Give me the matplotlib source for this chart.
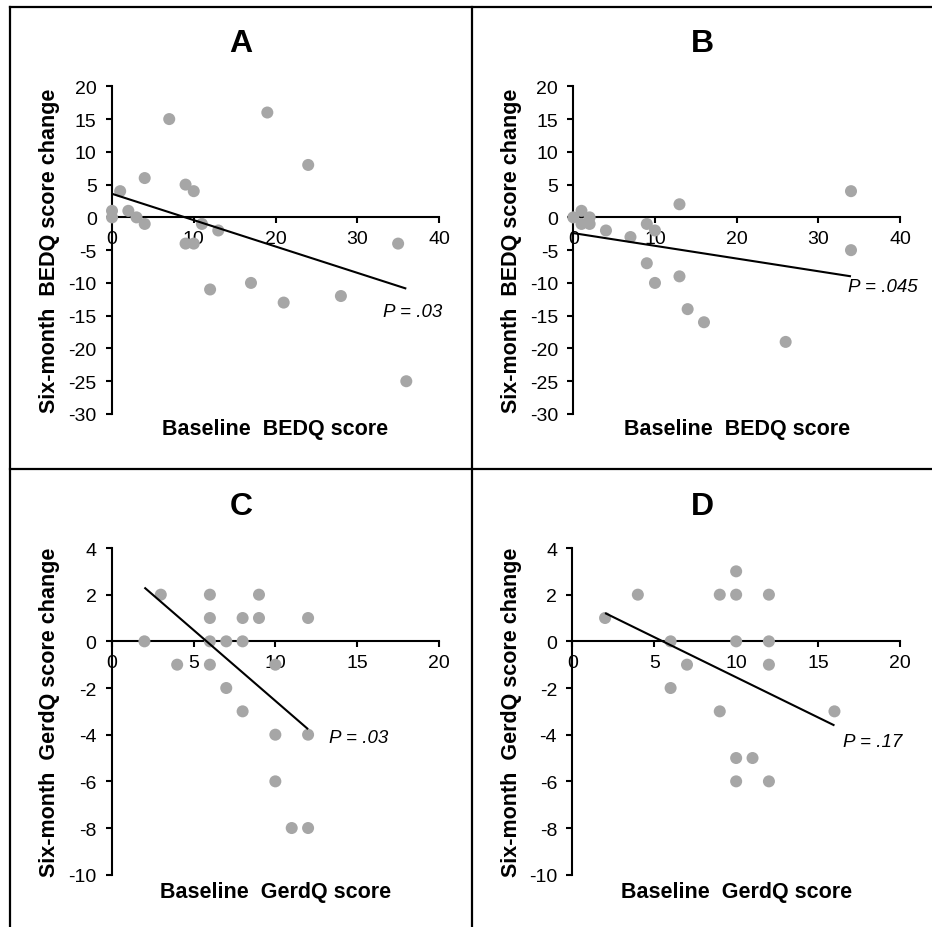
import matplotlib
matplotlib.use("Agg")
import matplotlib.pyplot as plt
from matplotlib.lines import Line2D

plt.rcParams['font.family'] = ['Liberation Sans', 'DejaVu Sans']
plt.rcParams['axes.unicode_minus'] = False

# ---- data ----
A_x = [0, 0, 1, 2, 3, 4, 4, 7, 9, 10, 9, 10, 11, 13, 12, 17, 19, 21, 24, 28, 35, 36]
A_y = [1, 0, 4, 1, 0, 6, -1, 15, 5, 4, -4, -4, -1, -2, -11, -10, 16, -13, 8, -12, -4, -25]
B_x = [0, 1, 1, 2, 2, 4, 7, 9, 10, 9, 10, 13, 13, 14, 16, 26, 34, 34]
B_y = [0, 1, -1, 0, -1, -2, -3, -1, -2, -7, -10, 2, -9, -14, -16, -19, 4, -5]
C_x = [2, 3, 4, 6, 6, 6, 6, 7, 7, 8, 8, 8, 9, 9, 10, 10, 10, 11, 12, 12, 12]
C_y = [0, 2, -1, 2, 1, 0, -1, 0, -2, 1, 0, -3, 2, 1, -1, -4, -6, -8, -8, 1, -4]
D_x = [2, 4, 6, 6, 7, 9, 9, 10, 10, 10, 10, 10, 11, 12, 12, 12, 12, 16]
D_y = [1, 2, 0, -2, -1, 2, -3, 3, 2, 0, -5, -6, -5, 2, 0, -1, -6, -3]

# trend lines: (x_start, x_end, intercept, slope)
A_trend = (0, 36, 3.6, -0.402)
B_trend = (0, 34, -2.4, -0.194)
C_trend = (2, 12, 3.52, -0.607)
D_trend = (2, 16, 1.90, -0.344)

p_labels = ["P = .03", "P = .045", "P = .03", "P = .17"]
p_pos = [(33.1, -14.3), (33.6, -10.6), (13.3, -4.1), (16.5, -4.3)]
titles = ["A", "B", "C", "D"]
xlabels = ["Baseline  BEDQ score", "Baseline  BEDQ score",
           "Baseline  GerdQ score", "Baseline  GerdQ score"]
ylabels = ["Six-month  BEDQ score change", "Six-month  BEDQ score change",
           "Six-month  GerdQ score change", "Six-month  GerdQ score change"]
xlims = [(0, 40), (0, 40), (0, 20), (0, 20)]
ylims = [(-30, 20), (-30, 20), (-10, 4), (-10, 4)]
xticks = [[0, 10, 20, 30, 40], [0, 10, 20, 30, 40], [0, 5, 10, 15, 20], [0, 5, 10, 15, 20]]
yticks = [list(range(-30, 21, 5)), list(range(-30, 21, 5)),
          list(range(-10, 5, 2)), list(range(-10, 5, 2))]

W, H = 932, 928
fig = plt.figure(figsize=(W / 100, H / 100), dpi=100)

# axes rectangles in pixels: (left, top, right, bottom)
rects = [(112, 87.3, 439, 415), (573.3, 87.3, 900, 415),
         (111.7, 549, 439, 875.7), (572.3, 549, 900, 875.7)]
title_pos = [(241, 44), (702, 44), (241, 507), (702, 507)]
ylab_x = [50, 511, 50, 511]
xlab_y = [430, 430, 893, 893]

data = [(A_x, A_y, A_trend), (B_x, B_y, B_trend), (C_x, C_y, C_trend), (D_x, D_y, D_trend)]

for i in range(4):
    l, t, r, b = rects[i]
    ax = fig.add_axes([l / W, 1 - b / H, (r - l) / W, (b - t) / H])
    xs, ys, tr = data[i]
    ax.scatter(xs, ys, s=75, color='#A6A6A6', edgecolors='none', zorder=3, clip_on=False)
    x0, x1, c, m = tr
    ax.plot([x0, x1], [c + m * x0, c + m * x1], color='black', lw=1.5, zorder=4,
            solid_capstyle='butt')
    ax.set_xlim(*xlims[i])
    ax.set_ylim(*ylims[i])
    ax.set_xticks(xticks[i])
    ax.set_yticks(yticks[i])
    ax.spines['top'].set_visible(False)
    ax.spines['right'].set_visible(False)
    ax.spines['bottom'].set_position(('data', 0))
    ax.spines['left'].set_linewidth(1.5)
    ax.spines['bottom'].set_linewidth(1.5)
    ax.spines['bottom'].set_zorder(2)
    ax.tick_params(axis='y', direction='out', length=4, width=1.5, pad=7, labelsize=14)
    ax.tick_params(axis='x', direction='out', length=4, width=1.5, pad=5, labelsize=14)
    ax.patch.set_alpha(0)
    px, py = p_pos[i]
    ax.text(px, py, p_labels[i], fontsize=13.5, style='italic', ha='left', va='center')
    cx = (l + r) / 2
    fig.text(title_pos[i][0] / W, 1 - title_pos[i][1] / H, titles[i], fontsize=23,
             fontweight='bold', ha='center', va='center')
    fig.text(cx / W, 1 - xlab_y[i] / H, xlabels[i], fontsize=15.5, fontweight='bold',
             ha='center', va='center')
    fig.text(ylab_x[i] / W, 1 - ((t + b) / 2) / H, ylabels[i], fontsize=15.5,
             fontweight='bold', ha='center', va='center', rotation=90)

# frame lines
def fline(xa, ya, xb, yb):
    fig.add_artist(Line2D([xa / W, xb / W], [1 - ya / H, 1 - yb / H], color='black',
                          lw=1.6, transform=fig.transFigure))

fline(10, 8, 932, 8)
fline(10, 8, 10, 928)
fline(472, 8, 472, 928)
fline(10, 470, 932, 470)

fig.savefig("out.png", dpi=100)
